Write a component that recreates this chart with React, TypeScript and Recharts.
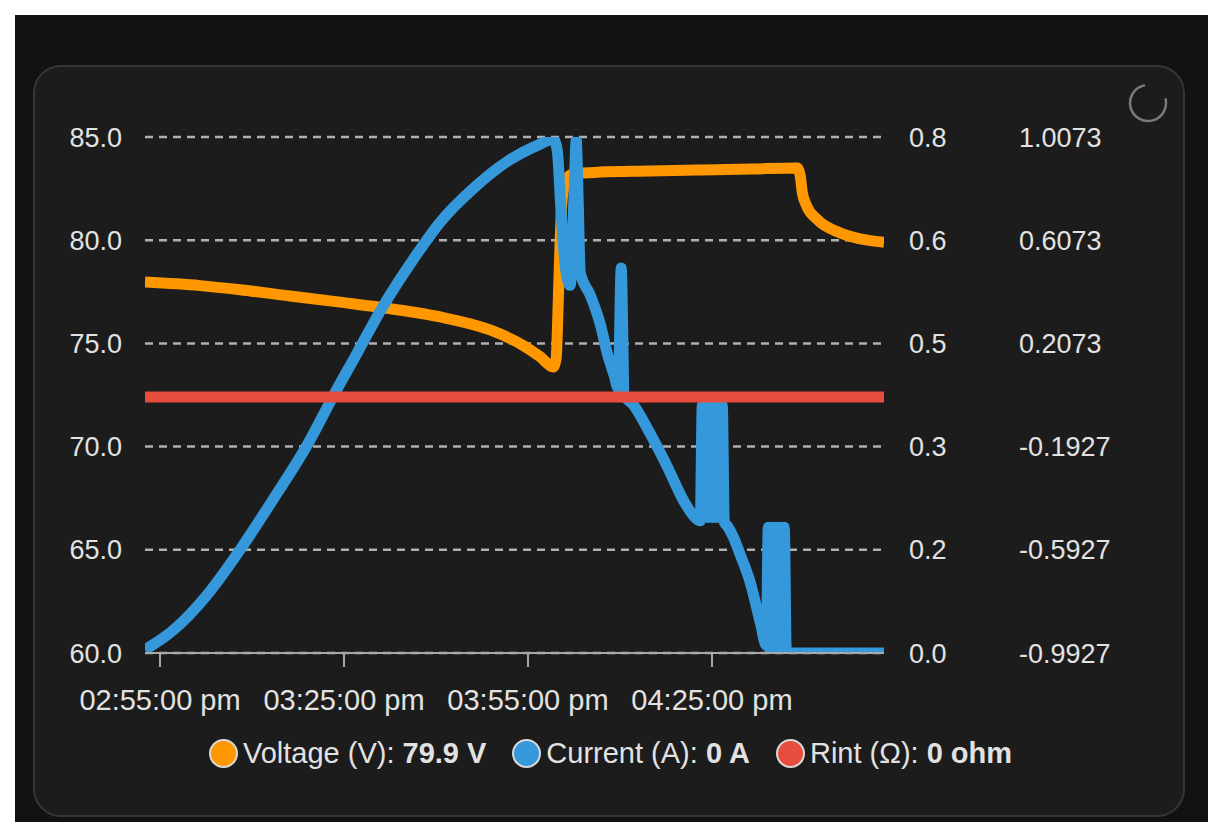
import React from "react";
import { LineChart, Line, XAxis, YAxis, CartesianGrid } from "recharts";

// time axis: minutes after 02:55:00 pm
const timeTicks = [0, 30, 60, 90];
const timeTickLabels = ["02:55:00 pm", "03:25:00 pm", "03:55:00 pm", "04:25:00 pm"];

const voltageTicks = [60, 65, 70, 75, 80, 85];
const currentTicks = [0, 0.16, 0.32, 0.48, 0.64, 0.8];
const rintTicks = [-0.9927, -0.5927, -0.1927, 0.2073, 0.6073, 1.0073];

const voltageTimes = [
  -2.45, 6.53, 13.05, 21.21, 29.36, 35.89, 45.68, 53.83, 59.22, 61.99, 64.11, 64.6, 64.93, 65.25,
  65.58, 66.23, 67.21, 71.78, 79.93, 88.09, 96.25, 103.91, 104.4, 104.73, 105.38, 107.18, 110.93,
  115.33, 118.05,
];
const voltageValues = [
  77.97, 77.8, 77.6, 77.3, 77.0, 76.75, 76.28, 75.65, 74.9, 74.35, 73.86, 74.3, 77.0, 80.0,
  82.0, 82.9, 83.2, 83.3, 83.35, 83.4, 83.45, 83.5, 83.1, 82.3, 81.7, 81.0, 80.35, 80.0, 79.9,
];

const currentTimes = [
  -2.45, 2.12, 7.67, 13.05, 18.43, 23.98, 28.22, 32.14, 35.89, 41.27, 45.68, 51.06, 56.61, 61.99,
  64.11, 64.76, 65.42, 66.07, 66.88, 67.54, 67.86, 68.19, 68.52, 70.15, 71.78, 72.92, 74.06, 74.71,
  75.2, 75.69, 77.16, 79.93, 82.71, 85.32, 87.6, 88.09, 88.42, 88.74, 89.07, 89.4, 89.72, 90.05,
  90.38, 90.7, 91.03, 91.35, 91.68, 92.01, 92.5, 93.47, 94.62, 96.25, 97.88, 98.86, 99.18, 99.51,
  99.84, 100.16, 100.49, 100.82, 101.14, 101.47, 101.79, 102.12, 118.05,
];
const currentValues = [
  0.005, 0.035, 0.09, 0.16, 0.238, 0.322, 0.398, 0.465, 0.53, 0.61, 0.668, 0.72, 0.762, 0.789,
  0.797, 0.78, 0.68, 0.6, 0.57, 0.72, 0.795, 0.7, 0.59, 0.555, 0.51, 0.465, 0.43, 0.41,
  0.597, 0.4, 0.385, 0.34, 0.289, 0.237, 0.207, 0.205, 0.384, 0.21, 0.384, 0.21, 0.384, 0.21,
  0.384, 0.21, 0.384, 0.21, 0.384, 0.203, 0.197, 0.18, 0.152, 0.109, 0.047, 0.012, 0.195, 0,
  0.195, 0, 0.195, 0, 0.195, 0, 0.195, 0, 0,
];

const rintTimes = [-2.45, 118.05];
const rintValues = [0, 0];

const voltageData = voltageTimes.map((t, i) => ({ t, v: voltageValues[i] }));
const currentData = currentTimes.map((t, i) => ({ t, c: currentValues[i] }));
const rintData = rintTimes.map((t, i) => ({ t, r: rintValues[i] }));

const FONT = "'Liberation Sans', Arial, Helvetica, sans-serif";
const TEXT = "#e2e2e2";
const ORANGE = "#ff9800";
const BLUE = "#3498db";
const RED = "#e74c3c";

const tickStyle = { fill: TEXT, fontSize: 27, fontFamily: FONT };
const xTickStyle = { fill: TEXT, fontSize: 29, fontFamily: FONT };

const legendItems = [
  { color: ORANGE, label: "Voltage (V): ", value: "79.9 V" },
  { color: BLUE, label: "Current (A): ", value: "0 A" },
  { color: RED, label: "Rint (Ω): ", value: "0 ohm" },
];

export default function App() {
  return (
    <div
      style={{
        position: "absolute",
        left: 0,
        top: 0,
        width: 1224,
        height: 837,
        background: "#ffffff",
        fontFamily: FONT,
        overflow: "hidden",
      }}
    >
      <div
        style={{
          position: "absolute",
          left: 15,
          top: 15,
          width: 1193,
          height: 807,
          background: "#121212",
        }}
      />
      <div
        style={{
          position: "absolute",
          left: 33,
          top: 65,
          width: 1152,
          height: 752,
          boxSizing: "border-box",
          background: "#1c1c1c",
          border: "2px solid #363636",
          borderRadius: 28,
        }}
      />
      <svg
        style={{ position: "absolute", left: 1128, top: 83 }}
        width={40}
        height={40}
        viewBox="0 0 40 40"
      >
        <circle
          cx={20}
          cy={20}
          r={18}
          fill="none"
          stroke="#7a7a7a"
          strokeWidth={2.5}
          strokeDasharray="86 27"
          transform="rotate(-15 20 20)"
        />
      </svg>
      <div style={{ position: "absolute", left: 0, top: 0 }}>
        <LineChart
          width={1224}
          height={837}
          margin={{ top: 137, right: 0, bottom: 124, left: 0 }}
        >
          <CartesianGrid
            yAxisId="v"
            vertical={false}
            stroke="#b0b0b0"
            strokeWidth={2.5}
            strokeDasharray="8 6"
          />
          <XAxis
            dataKey="t"
            type="number"
            domain={[-2.45, 118.05]}
            ticks={timeTicks}
            tickFormatter={(v) => timeTickLabels[timeTicks.indexOf(v)] ?? ""}
            height={60}
            tick={xTickStyle}
            tickSize={14}
            tickMargin={22}
            axisLine={{ stroke: "#a8a8a8", strokeWidth: 2 }}
            tickLine={{ stroke: "#a8a8a8", strokeWidth: 2 }}
            allowDataOverflow
          />
          <YAxis
            yAxisId="v"
            orientation="left"
            width={145}
            domain={[60, 85]}
            ticks={voltageTicks}
            tickFormatter={(v) => Number(v).toFixed(1)}
            tick={tickStyle}
            tickSize={0}
            tickMargin={23}
            axisLine={false}
            tickLine={false}
            allowDataOverflow
          />
          <YAxis
            yAxisId="c"
            orientation="right"
            width={100}
            domain={[0, 0.8]}
            ticks={currentTicks}
            tickFormatter={(v) => Number(v).toFixed(1)}
            tick={tickStyle}
            tickSize={0}
            tickMargin={25}
            axisLine={false}
            tickLine={false}
            allowDataOverflow
          />
          <YAxis
            yAxisId="r"
            orientation="right"
            width={240}
            domain={[-0.9927, 1.0073]}
            ticks={rintTicks}
            tickFormatter={(v) => Number(v).toFixed(4)}
            tick={tickStyle}
            tickSize={0}
            tickMargin={35}
            axisLine={false}
            tickLine={false}
            allowDataOverflow
          />
          <Line
            yAxisId="v"
            data={voltageData}
            dataKey="v"
            type="monotone"
            stroke={ORANGE}
            strokeWidth={11}
            strokeLinejoin="round"
            dot={false}
            activeDot={false}
            isAnimationActive={false}
          />
          <Line
            yAxisId="c"
            data={currentData}
            dataKey="c"
            type="monotone"
            stroke={BLUE}
            strokeWidth={11}
            strokeLinejoin="round"
            dot={false}
            activeDot={false}
            isAnimationActive={false}
          />
          <Line
            yAxisId="r"
            data={rintData}
            dataKey="r"
            type="linear"
            stroke={RED}
            strokeWidth={11}
            dot={false}
            activeDot={false}
            isAnimationActive={false}
          />
        </LineChart>
      </div>
      <div
        style={{
          position: "absolute",
          left: 0,
          top: 738,
          width: 1221,
          height: 30,
          display: "flex",
          justifyContent: "center",
          alignItems: "center",
          gap: 26,
          fontSize: 29,
          color: TEXT,
          whiteSpace: "nowrap",
        }}
      >
        {legendItems.map((it) => (
          <div key={it.label} style={{ display: "flex", alignItems: "center" }}>
            <span
              style={{
                display: "inline-block",
                width: 29,
                height: 29,
                boxSizing: "border-box",
                borderRadius: "50%",
                background: it.color,
                border: "2px solid #d8d8d8",
              }}
            />
            <span style={{ marginLeft: 5 }}>
              {it.label}
              <b>{it.value}</b>
            </span>
          </div>
        ))}
      </div>
    </div>
  );
}
